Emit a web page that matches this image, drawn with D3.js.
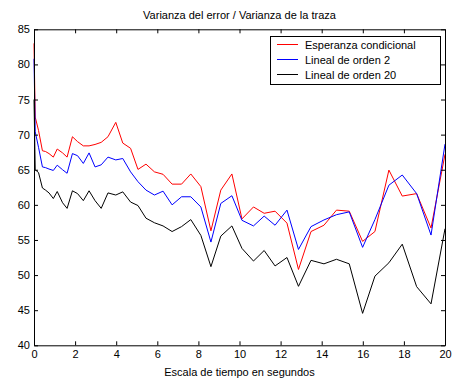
<!DOCTYPE html>
<html>
<head>
<meta charset="utf-8">
<script src="https://cdn.jsdelivr.net/npm/d3@7"></script>
<style>
  html, body { margin: 0; padding: 0; background: #fff; }
  svg { display: block; font-family: "Liberation Sans", Arial, sans-serif; }
</style>
</head>
<body>
<svg id="chart" width="452" height="378"></svg>
<script>
// Time axis (seconds) shared by all three series
const tiempo = [0, 0.06, 0.22, 0.41, 0.56, 0.73, 0.94, 1.13, 1.39, 1.61,
  1.87, 2.12, 2.40, 2.68, 2.97, 3.27, 3.60, 3.98, 4.32, 4.70,
  5.06, 5.45, 5.86, 6.28, 6.72, 7.18, 7.63, 8.12, 8.61, 9.09,
  9.63, 10.12, 10.68, 11.20, 11.73, 12.31, 12.87, 13.48, 14.11, 14.72,
  15.34, 15.99, 16.59, 17.27, 17.92, 18.62, 19.32, 20];

const esperanzaCondicional = [83.0, 72.5, 70.6, 67.7, 67.6, 67.3, 66.8, 67.95, 67.4, 66.8,
  69.7, 69.0, 68.4, 68.4, 68.6, 68.9, 69.7, 71.75, 68.8, 68.05,
  65.05, 65.8, 64.7, 64.35, 62.95, 62.95, 64.4, 62.6, 56.3, 62.1,
  64.4, 58.0, 59.7, 58.8, 59.1, 57.4, 50.8, 56.2, 57.1, 59.25,
  59.1, 54.8, 56.2, 64.95, 61.25, 61.6, 56.7, 67.2];

const linealOrden2 = [80.8, 70.4, 68.2, 65.4, 65.3, 65.1, 64.9, 65.65, 65.0, 64.5,
  67.3, 67.0, 65.9, 67.4, 65.4, 65.7, 66.8, 66.4, 66.6, 64.7,
  63.3, 62.1, 61.4, 61.95, 60.0, 61.15, 61.15, 59.7, 54.7, 60.2,
  61.3, 57.8, 57.0, 58.4, 57.1, 59.25, 53.65, 56.9, 57.85, 58.6,
  59.0, 53.95, 57.9, 62.8, 64.25, 61.6, 55.7, 68.65];

const linealOrden20 = [75.0, 65.0, 64.6, 62.4, 62.1, 61.7, 60.9, 61.9, 60.3, 59.5,
  62.0, 61.6, 60.6, 62.0, 60.6, 59.5, 61.7, 61.4, 61.85, 60.4,
  59.9, 58.1, 57.45, 57.0, 56.2, 56.9, 57.9, 55.65, 51.2, 55.55,
  57.0, 53.8, 52.0, 53.5, 51.3, 52.5, 48.4, 52.1, 51.6, 52.25,
  51.6, 44.55, 49.85, 51.75, 54.4, 48.35, 45.9, 56.6];

const nombres = ["Esperanza condicional", "Lineal de orden 2", "Lineal de orden 20"];
const colores = ["#ff0000", "#0000ff", "#000000"];
const series = [esperanzaCondicional, linealOrden2, linealOrden20];

const xTicks = [0, 2, 4, 6, 8, 10, 12, 14, 16, 18, 20];
const yTicks = [40, 45, 50, 55, 60, 65, 70, 75, 80, 85];

const svg = d3.select("#chart");
const plotLeft = 34, plotRight = 445, plotTop = 29.3, plotBottom = 345.3;

const x = d3.scaleLinear().domain([0, 20]).range([plotLeft, plotRight]);
const y = d3.scaleLinear().domain([40, 85]).range([plotBottom, plotTop]);

// Lines
const line = d3.line().x((d, i) => x(tiempo[i])).y(d => y(d));
series.forEach((s, k) => {
  svg.append("path")
    .datum(s)
    .attr("d", line)
    .attr("fill", "none")
    .attr("stroke", colores[k])
    .attr("stroke-width", 1)
    .attr("stroke-linejoin", "miter");
});

// Axes with inward ticks on all four sides
const fontSize = 11;
function styleAxis(g, hideLabels) {
  g.select(".domain").attr("stroke", "#000").attr("stroke-width", 1);
  g.selectAll(".tick line").attr("stroke", "#000");
  g.selectAll(".tick text").attr("font-size", fontSize).attr("fill", "#000")
    .attr("font-family", "'Liberation Sans', Arial, sans-serif");
  if (hideLabels) g.selectAll(".tick text").remove();
}

svg.append("g").attr("transform", `translate(0,${plotBottom})`)
  .call(d3.axisBottom(x).tickValues(xTicks).tickFormat(d3.format("d"))
    .tickSizeInner(-4).tickSizeOuter(0).tickPadding(5))
  .call(g => styleAxis(g, false));

svg.append("g").attr("transform", `translate(0,${plotTop})`)
  .call(d3.axisTop(x).tickValues(xTicks).tickSizeInner(-4).tickSizeOuter(0))
  .call(g => styleAxis(g, true));

svg.append("g").attr("transform", `translate(${plotLeft},0)`)
  .call(d3.axisLeft(y).tickValues(yTicks).tickFormat(d3.format("d"))
    .tickSizeInner(-4).tickSizeOuter(0).tickPadding(4))
  .call(g => styleAxis(g, false));

svg.append("g").attr("transform", `translate(${plotRight},0)`)
  .call(d3.axisRight(y).tickValues(yTicks).tickSizeInner(-4).tickSizeOuter(0))
  .call(g => styleAxis(g, true));

// Title and axis label
svg.append("text")
  .attr("x", (plotLeft + plotRight) / 2).attr("y", 19)
  .attr("text-anchor", "middle").attr("font-size", fontSize)
  .text("Varianza del error / Varianza de la traza");

svg.append("text")
  .attr("x", (plotLeft + plotRight) / 2).attr("y", 376)
  .attr("text-anchor", "middle").attr("font-size", fontSize)
  .text("Escala de tiempo en segundos");

// Legend
const lg = svg.append("g");
const lx0 = 270, ly0 = 36, lw = 170, lh = 48;
lg.append("rect").attr("x", lx0 + 0.5).attr("y", ly0 + 0.5)
  .attr("width", lw).attr("height", lh)
  .attr("fill", "#fff").attr("stroke", "#000").attr("stroke-width", 1);
nombres.forEach((n, k) => {
  const yy = ly0 + 8.5 + k * 15;
  lg.append("line").attr("x1", lx0 + 7).attr("x2", lx0 + 28)
    .attr("y1", yy).attr("y2", yy)
    .attr("stroke", colores[k]).attr("stroke-width", 1);
  lg.append("text").attr("x", lx0 + 35).attr("y", yy + 4)
    .attr("font-size", fontSize).text(n);
});
</script>
</body>
</html>
